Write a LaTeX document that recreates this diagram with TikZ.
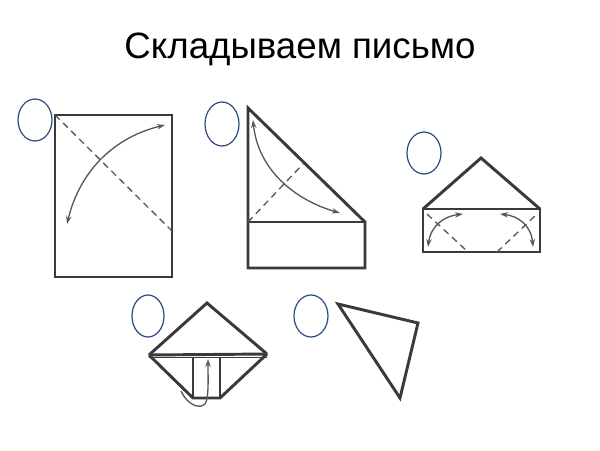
\documentclass[tikz,border=0pt]{standalone}
\usepackage{fontspec}
\setmainfont{Liberation Sans}
\usetikzlibrary{arrows.meta}
\definecolor{ink}{HTML}{3A3A3A}
\definecolor{oval}{HTML}{2B4A7E}
\tikzset{
  outline/.style={draw=ink, line width=2.2pt, line join=miter},
  fold/.style={draw=ink!85, line width=1pt, dashed, dash pattern=on 5pt off 3.5pt},
  turn/.style={draw=ink!85, line width=1pt, {Stealth[length=6pt,width=4pt]}-{Stealth[length=6pt,width=4pt]}},
  turnone/.style={draw=ink!85, line width=1pt, -{Stealth[length=6pt,width=4pt]}},
  mark/.style={}, 
  ovalstyle/.style={draw=oval, line width=0.9pt},
  edge/.style={draw=ink, line width=1pt}
}
\begin{document}
\begin{tikzpicture}[x=0.75pt,y=-0.75pt]
\useasboundingbox (0,0) rectangle (600,450);
\fill[white] (0,0) rectangle (600,450);
\node[anchor=base, font=\fontsize{27.5}{30}\selectfont, inner sep=0pt] (title) at (300,58) {Складываем письмо};

% panel 1
\draw[ovalstyle] (35,120) ellipse [x radius=17, y radius=21];
\coordinate (r1a) at (55,115); \coordinate (r1b) at (172,115);
\coordinate (r1c) at (172,277); \coordinate (r1d) at (55,277);
\draw[outline] (r1a) -- (r1b) -- (r1c) -- (r1d) -- cycle;
\coordinate (d1e) at (172,231);
\draw[fold] (r1a) -- (d1e);
\coordinate (a1s) at (165,125); \coordinate (a1e) at (67,224);
\draw[turn] (a1e) .. controls (80,170) and (115,137) .. (a1s);

% panel 2
\draw[ovalstyle] (222,124) ellipse [x radius=17, y radius=22];
\coordinate (t2a) at (248,108); \coordinate (t2b) at (365,222);
\coordinate (t2c) at (248,222);
\coordinate (b2c) at (365,268); \coordinate (b2d) at (248,268);
\draw[outline] (t2a) -- (t2b) -- (b2c) -- (b2d) -- cycle;
\draw[outline] (t2c) -- (t2b);
\coordinate (f2e) at (303,164);
\draw[fold] (t2c) -- (f2e);
\coordinate (a2s) at (253,120); \coordinate (a2e) at (340,213);
\draw[turn] (a2s) .. controls (258,170) and (295,200) .. (a2e);

% panel 3
\draw[ovalstyle] (424,153) ellipse [x radius=17, y radius=21];
\coordinate (h3a) at (423,209); \coordinate (h3t) at (481,158);
\coordinate (h3b) at (540,209); \coordinate (h3c) at (540,252);
\coordinate (h3d) at (423,252);
\draw[outline] (h3a) -- (h3t) -- (h3b);
\draw[outline] (h3a) -- (h3b) -- (h3c) -- (h3d) -- cycle;
\coordinate (f3a) at (427,214); \coordinate (f3b) at (468,252);
\coordinate (f3c) at (497,252); \coordinate (f3d) at (537,214);
\draw[fold] (f3a) -- (f3b);
\draw[fold] (f3c) -- (f3d);
\coordinate (a3a) at (463,214); \coordinate (a3b) at (428,247);
\coordinate (a3c) at (500,214); \coordinate (a3d) at (533,247);
\draw[turn] (a3b) .. controls (431,225) and (445,216) .. (a3a);
\draw[turn] (a3c) .. controls (518,216) and (531,225) .. (a3d);

% panel 4
\draw[ovalstyle] (148,316) ellipse [x radius=16, y radius=21];
\coordinate (d4t) at (207,303); \coordinate (d4l) at (149,355);
\coordinate (d4r) at (267,354); \coordinate (d4bl) at (193,398);
\coordinate (d4br) at (220,398);
\draw[outline] (d4l) -- (d4t) -- (d4r);
\draw[outline] (d4l) -- (d4r);
\draw[edge] (149,357.5) -- (267,357.5);
\draw[outline] (d4l) -- (d4bl) -- (d4br) -- (d4r);
\coordinate (v4a) at (193,358); \coordinate (v4b) at (220,358);
\draw[edge] (v4a) -- (d4bl);
\draw[edge] (v4b) -- (d4br);
\coordinate (a4s) at (181,391); \coordinate (a4e) at (208,359);
\draw[turnone] (a4s) .. controls (188,406) and (200,409) .. (205,404)
  .. controls (209,398) and (208,380) .. (a4e);

% panel 5
\draw[ovalstyle] (311,316) ellipse [x radius=17, y radius=21];
\coordinate (p5a) at (338,304); \coordinate (p5b) at (418,323);
\coordinate (p5c) at (400,398);
\draw[outline] (p5a) -- (p5b) -- (p5c) -- cycle;
\end{tikzpicture}
\end{document}
